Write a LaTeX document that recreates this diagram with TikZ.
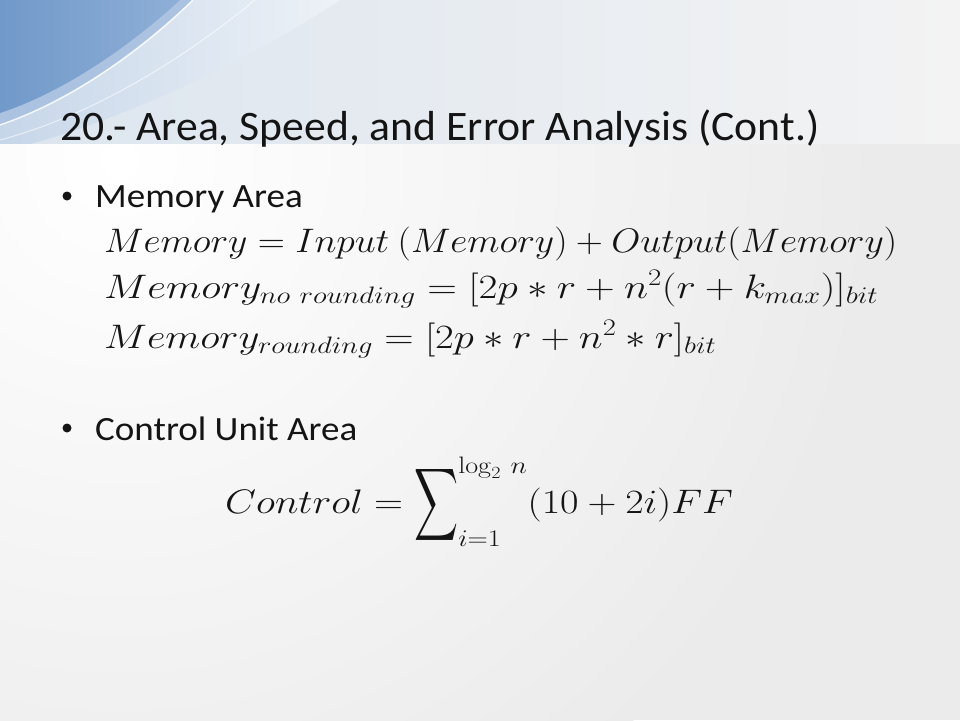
\RequirePackage{fix-cm}
\documentclass[tikz,border=0pt]{standalone}
\usepackage{amsmath}
\usepackage[no-math]{fontspec}
\setmainfont{Carlito}
\newfontfamily\titlefont{Carlito}[FakeStretch=1.04]
\newfontfamily\bulletfont{Carlito}[FakeStretch=1.09]
\DeclareFontShape{OMX}{cmex}{m}{n}{<->cmex10}{}
\usepackage{graphicx}
\definecolor{bggray}{HTML}{EBEBEB}
\definecolor{bandleft}{HTML}{DCE5EF}
\definecolor{swlight}{HTML}{C6D6E9}
\definecolor{swmid}{HTML}{ABC3E0}
\definecolor{swdark}{HTML}{7199C9}
\definecolor{swdarkedge}{HTML}{8EAFD7}
\definecolor{ink}{HTML}{141414}
\tikzset{
  titletext/.style={anchor=base west, inner sep=0pt, text=ink, font=\titlefont\fontsize{42}{48}\selectfont},
  bullettext/.style={anchor=base west, inner sep=0pt, text=ink, font=\bulletfont\fontsize{34}{40}\selectfont},
  mathtext/.style={anchor=base west, inner sep=0pt, text=ink, font=\fontsize{34}{40}\selectfont},
  bulletdot/.style={circle, fill=ink, inner sep=0pt, minimum size=9pt}
}
\newcommand\fitwidth[2]{\resizebox{#1}{\height}{#2}}
\begin{document}
\begin{tikzpicture}[x=1pt,y=-1pt]
\useasboundingbox (0,0) rectangle (960,720);
% background
\fill[bggray] (0,0) rectangle (960,720);
\begin{scope}
  \clip (0,143) rectangle (960,720);
  \shade[inner color=white, outer color=bggray] (120,160) circle (760);
\end{scope}
\shade[left color=bandleft, right color=bggray!60!white] (0,0) rectangle (960,143);
% swooshes
\begin{scope}
  \clip (0,0) rectangle (960,143);
  \shade[left color=swlight, right color=bandleft!50!white]
    (0,0) -- (340,0) .. controls (250,60) and (115,125) .. (0,152) -- cycle;
  \fill[swmid] (0,0) -- (192,0) .. controls (140,50) and (70,100) .. (0,124) -- cycle;
  \shade[left color=swdark, right color=swdarkedge]
    (0,0) -- (180,0) .. controls (130,46) and (64,92) .. (0,113) -- cycle;
  \draw[white, line width=1.3pt, opacity=0.85] (193,0) .. controls (141,51) and (71,101) .. (0,125);
  \draw[white, line width=1pt, opacity=0.6] (255,0) .. controls (186,57) and (94,115) .. (0,140);
\end{scope}
% title
\node[titletext] (title) at (60,140) {20.- Area, Speed, and Error Analysis (Cont.)};
% bullets
\node[bulletdot] (b1) at (67,196) {};
\node[bullettext] (t1) at (95,207) {Memory Area};
\node[mathtext] (m1) at (104,252) {\fitwidth{793pt}{$Memory = Input\ (Memory) + Output(Memory)$}};
\node[mathtext] (m2) at (104,298) {\fitwidth{774pt}{$Memory_{no\ rounding} = [2p * r + n^2(r + k_{max})]_{bit}$}};
\node[mathtext] (m3) at (104,348) {\fitwidth{612pt}{$Memory_{rounding} = [2p * r + n^2 * r]_{bit}$}};
\node[bulletdot] (b2) at (67,428) {};
\node[bullettext] (t2) at (95,440) {Control Unit Area};
\node[mathtext] (m4) at (225,513) {\fitwidth{508pt}{$Control = \mathop{\vcenter{\hbox{\scalebox{0.76}[1.49]{$\displaystyle\sum$}}}}\nolimits_{i=1}^{\log_2\,n}(10 + 2i)FF$}};
\end{tikzpicture}
\end{document}
